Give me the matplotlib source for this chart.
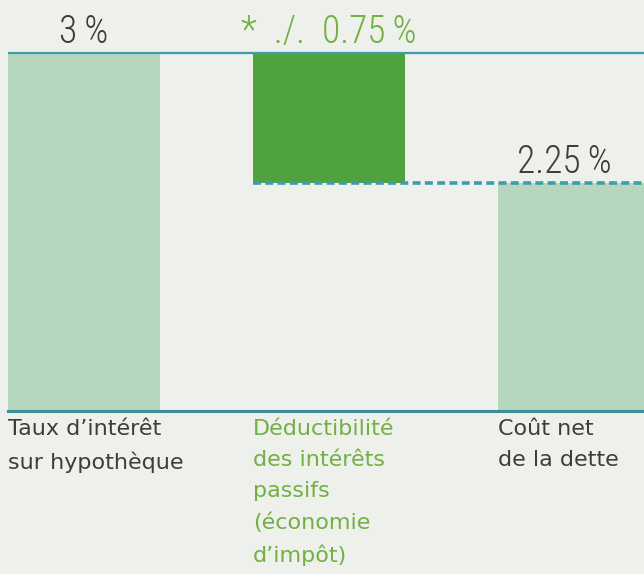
import matplotlib.pyplot as plt

# donnees
categories = ["Taux d\u2019intérêt\nsur hypothèque",
              "Déductibilité\ndes intérêts\npassifs\n(économie\nd\u2019impôt)",
              "Coût net\nde la dette"]
bottoms = [0.0, 2.25, 0.0]
heights = [3.0, 0.75, 2.25]
value_labels = ["3\u2009%", "*  ./.  0.75\u2009%", "2.25\u2009%"]

bg = "#eef0ec"
light_green = "#b6d6bd"
dark_green = "#4fa23d"
text_grey = "#3d3d3d"
text_green = "#72b043"
teal = "#3f9cab"

plt.rcParams['font.family'] = ['DejaVu Sans']
narrow = ['Roboto Condensed', 'Roboto', 'DejaVu Sans']

fig = plt.figure(figsize=(6.44, 5.74), dpi=100, facecolor=bg)
ax = fig.add_axes([0, 1 - 412 / 574, 1, 412 / 574])
ax.set_facecolor(bg)

x = [0, 1, 2]
width = 0.62
colors = [light_green, dark_green, light_green]
ax.bar(x, heights, width=width, bottom=bottoms, color=colors, zorder=2)

ax.set_xlim(-0.343, 2.286)
ax.set_ylim(0.928, 3.306)

left = x[0] - width / 2
ax.plot([left, 3], [heights[0], heights[0]], color=teal, lw=1.6, zorder=3,
        solid_capstyle='butt')
total = bottoms[1]
ax.plot([x[1] - width / 2, 3], [total, total], color=teal, lw=2.6,
        dashes=(2.2, 1.2), zorder=3)
ax.plot([left, 3], [0.935, 0.935], color="#3a8d99", lw=2.2, zorder=3,
        clip_on=False)

for axis in ['top', 'bottom', 'left', 'right']:
    ax.spines[axis].set_visible(False)
ax.set_xticks([])
ax.set_yticks([])

# valeurs au-dessus des barres
label_pos = [(x[0], heights[0]), (x[1], heights[0]), (x[2] - 0.04, total)]
label_colors = [text_grey, text_green, text_grey]
for lab, pos, c in zip(value_labels, label_pos, label_colors):
    ax.annotate(lab, pos, xytext=(0, 7), textcoords='offset points',
                ha='center', va='baseline', fontsize=27, fontweight='light',
                color=c, family=narrow)

# libelles des categories
cat_colors = [text_grey, text_green, text_grey]
for xi, lab, c in zip(x, categories, cat_colors):
    ax.annotate(lab, (xi - width / 2, 0.935), xytext=(0, -6),
                textcoords='offset points', ha='left', va='top',
                fontsize=16, color=c, linespacing=1.68,
                annotation_clip=False)

fig.savefig("out.png", dpi=100, facecolor=bg)
